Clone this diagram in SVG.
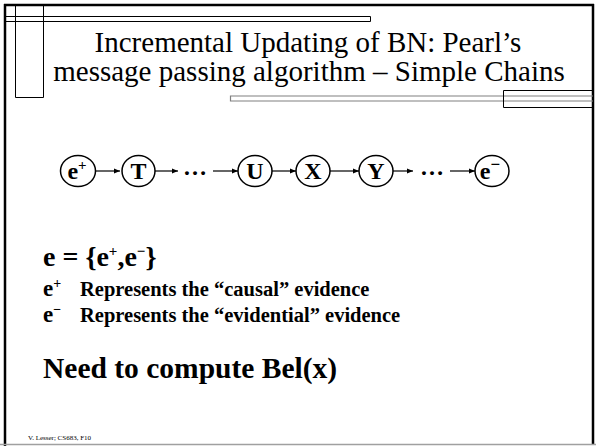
<svg xmlns="http://www.w3.org/2000/svg" width="596" height="446" viewBox="0 0 596 446">
  <style>
    .serif { font-family: "Liberation Serif", "Times New Roman", serif; fill: #000; }
    .title { font-size: 29px; text-anchor: middle; }
    .bold { font-weight: bold; }
    .node { fill: #fff; stroke: #000; stroke-width: 1.5; }
    .nlabel { font-family: "Liberation Serif", "Times New Roman", serif; font-weight: bold; font-size: 24px; text-anchor: middle; fill: #000; }
    .edge { stroke: #000; stroke-width: 1.2; fill: none; marker-end: url(#head); }
    .frame { fill: none; stroke: #000; }
    .gray { fill: none; stroke: #808080; stroke-width: 1.2; }
  </style>
  <defs>
    <marker id="head" viewBox="0 0 10 10" refX="10" refY="5" markerWidth="6" markerHeight="6" markerUnits="userSpaceOnUse" orient="auto">
      <path d="M0,1 L10,5 L0,9 Z" fill="#000"/>
    </marker>
  </defs>

  <rect width="596" height="446" fill="#fff"/>

  <!-- slide frame -->
  <g id="frame">
    <line x1="5" y1="4" x2="5" y2="446" stroke="#000" stroke-width="2.5"/>
    <line x1="4" y1="5" x2="594" y2="5" stroke="#000" stroke-width="2.5"/>
    <line x1="593" y1="4" x2="593" y2="445" stroke="#000" stroke-width="2.5"/>
    <line x1="0" y1="444.5" x2="596" y2="444.5" stroke="#a0a0a0" stroke-width="1.5"/>
    <!-- top double rule -->
    <path class="frame" d="M5,16.5 H370.5 V21.5 H5" stroke-width="1"/>
    <!-- left tab -->
    <path class="frame" d="M15.5,5 V97.5 H43.5 V5" stroke-width="1"/>
    <!-- title underline -->
    <path class="gray" d="M593,96 H230.5 V101 H593"/>
    <path class="frame" d="M593,90.5 H503.5 V107.5 H593" stroke-width="1"/>
  </g>

  <!-- title -->
  <g id="title">
    <text class="serif title" x="308" y="52">Incremental Updating of BN: Pearl’s</text>
    <text class="serif title" x="309" y="81">message passing algorithm – Simple Chains</text>
  </g>

  <!-- chain connectors -->
  <g id="connectors">
    <line class="edge" x1="95" y1="171" x2="120" y2="171"/>
    <line class="edge" x1="155" y1="171" x2="178" y2="171"/>
    <line class="edge" x1="213" y1="171" x2="238" y2="171"/>
    <line class="edge" x1="272" y1="171" x2="296" y2="171"/>
    <line class="edge" x1="330" y1="171" x2="359" y2="171"/>
    <line class="edge" x1="393" y1="171" x2="413" y2="171"/>
    <line class="edge" x1="450" y1="171" x2="475" y2="171"/>
  </g>

  <!-- ellipsis between nodes -->
  <g id="gaps">
    <text class="nlabel" x="195" y="175" font-size="13">…</text>
    <text class="nlabel" x="432" y="175" font-size="13">…</text>
  </g>

  <!-- chain nodes -->
  <g id="node-eplus">
    <ellipse class="node" cx="78" cy="171" rx="17.5" ry="15.5"/>
    <text class="nlabel" x="77" y="179" font-size="26">e<tspan font-size="15" dy="-9">+</tspan></text>
  </g>
  <g id="node-T">
    <ellipse class="node" cx="138.5" cy="171" rx="16.5" ry="15.5"/>
    <text class="nlabel" x="138.5" y="179">T</text>
  </g>
  <g id="node-U">
    <ellipse class="node" cx="255" cy="171" rx="17" ry="15.5"/>
    <text class="nlabel" x="255" y="179">U</text>
  </g>
  <g id="node-X">
    <ellipse class="node" cx="313" cy="171" rx="17" ry="15.5"/>
    <text class="nlabel" x="313" y="179">X</text>
  </g>
  <g id="node-Y">
    <ellipse class="node" cx="376" cy="171" rx="17" ry="15.5"/>
    <text class="nlabel" x="376" y="179">Y</text>
  </g>
  <g id="node-eminus">
    <ellipse class="node" cx="492" cy="171" rx="17" ry="15.5"/>
    <text class="nlabel" x="490" y="179" font-size="26">e<tspan font-size="17" dy="-9">−</tspan></text>
  </g>

  <!-- body text -->
  <g id="body" class="serif bold">
    <text x="43" y="266" font-size="28">e = {e<tspan font-size="15" dy="-10">+</tspan><tspan dy="10">,e</tspan><tspan font-size="15" dy="-10">−</tspan><tspan dy="10">}</tspan></text>
    <text x="43" y="296" font-size="23">e<tspan font-size="14" dy="-8">+</tspan></text>
    <text x="80" y="296" font-size="20.5">Represents the “causal” evidence</text>
    <text x="43" y="322" font-size="23">e<tspan font-size="14" dy="-8">−</tspan></text>
    <text x="80" y="322" font-size="20.5">Represents the “evidential” evidence</text>
    <text x="43" y="378" font-size="29.5">Need to compute Bel(x)</text>
  </g>

  <!-- footer -->
  <text class="serif" x="28" y="440" font-size="7">V. Lesser; CS683, F10</text>
</svg>
